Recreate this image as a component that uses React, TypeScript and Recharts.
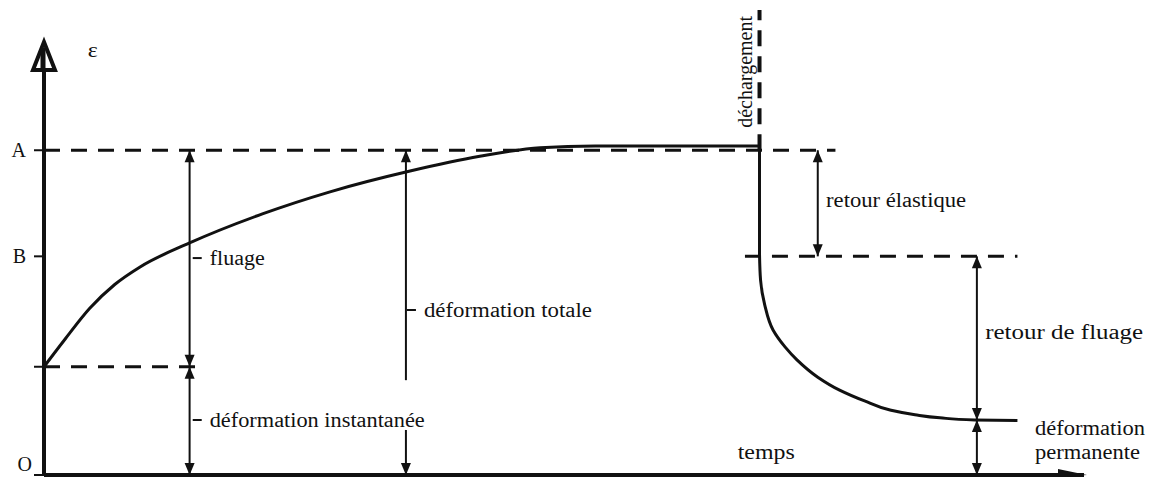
import React from "react";
import { LineChart, Line, XAxis, YAxis, ReferenceLine, ReferenceDot } from "recharts";

// fluage (creep) curve, time 0..100, strain 0..100
const creepTime = [0, 2, 4.4, 6.8, 9.2, 14.0, 21.0, 27.5, 35.2, 41.9, 47.7, 53.0, 68.8];
const creepStrain = [25, 31.3, 38.5, 44.0, 48.0, 53.6, 60.3, 65.4, 70.2, 73.6, 75.6, 76.0, 76.0];

// recovery after unloading
const recoveryTime = [68.8, 68.9, 69.3, 70.1, 71.25, 72.4, 74.4, 76.5, 78.9, 81.35, 83.75, 86.15, 89.5, 93.6];
const recoveryStrain = [50.8, 45.0, 39.3, 33.5, 29.6, 26.6, 22.6, 19.6, 17.1, 15.0, 13.9, 13.2, 12.7, 12.6];

const levelNames = ["O", "", "B", "A"];
const levelValues = [0, 25, 50.5, 75];
const unloadTime = 68.8;
const permanentStrain = 12.7;

const INK = "#111";
const FONT = "'Liberation Serif', 'Times New Roman', serif";

const creepData = creepTime.map((t, i) => ({ t, e: creepStrain[i] }));
const recoveryData = recoveryTime.map((t, i) => ({ t, e: recoveryStrain[i] }));
const dropData = [
  { t: unloadTime, e: creepStrain[creepStrain.length - 1] },
  { t: unloadTime, e: recoveryStrain[0] },
];

const instant = levelValues[1];
const levelB = levelValues[2];
const levelA = levelValues[3];

function arrow(start: boolean, end: boolean) {
  return (p: any) => {
    const { x1, y1, x2, y2 } = p;
    const head = (x: number, y: number, dir: number) => (
      <polygon
        points={`${x},${y} ${x - 5},${y - dir * 12} ${x + 5},${y - dir * 12}`}
        fill={INK}
      />
    );
    return (
      <g>
        <line x1={x1} y1={y1} x2={x2} y2={y2} stroke={INK} strokeWidth={2} />
        {start && head(x1, y1, Math.sign(y1 - y2))}
        {end && head(x2, y2, Math.sign(y2 - y1))}
      </g>
    );
  };
}

function note(text: string, width: number, dash = false, rotate = false) {
  return (p: any) => {
    const { cx, cy } = p;
    if (rotate) {
      return (
        <text
          x={cx}
          y={cy}
          transform={`rotate(-90 ${cx} ${cy})`}
          textAnchor="middle"
          dominantBaseline="central"
          fontFamily={FONT}
          fontSize={20}
          fill={INK}
        >
          {text}
        </text>
      );
    }
    const tx = dash ? cx + 17 : cx;
    return (
      <g>
        {dash && <line x1={cx} y1={cy} x2={cx + 9} y2={cy} stroke={INK} strokeWidth={2} />}
        <text
          x={tx}
          y={cy}
          dominantBaseline="central"
          fontFamily={FONT}
          fontSize={20}
          fill={INK}
          textLength={width}
          lengthAdjust="spacingAndGlyphs"
        >
          {text}
        </text>
      </g>
    );
  };
}

const levelTick = (p: any) => {
  const { x, y, payload } = p;
  const label = levelNames[levelValues.indexOf(payload.value)];
  const isOrigin = payload.value === 0;
  return (
    <text
      x={isOrigin ? x + 6 : x}
      y={isOrigin ? y - 11 : y}
      textAnchor="end"
      dominantBaseline="central"
      fontFamily={FONT}
      fontSize={20}
      fill={INK}
    >
      {label}
    </text>
  );
};

const yArrow = (p: any) => {
  const { cx, cy } = p;
  return (
    <g>
      <polygon
        points={`${cx},${cy} ${cx - 11},${cy + 28} ${cx + 11},${cy + 28}`}
        fill="#fff"
        stroke={INK}
        strokeWidth={4}
        strokeLinejoin="miter"
      />
      <line x1={cx - 1} y1={cy + 28} x2={cx - 1} y2={cy + 6} stroke={INK} strokeWidth={5} />
    </g>
  );
};

const xArrow = (p: any) => {
  const { cx, cy } = p;
  return <polygon points={`${cx + 3},${cy} ${cx - 26},${cy - 6} ${cx - 26},${cy + 2}`} fill={INK} />;
};

const dashed = { stroke: INK, strokeWidth: 3, strokeDasharray: "16 11" };

export default function App() {
  return (
    <div style={{ position: "absolute", left: 0, top: 0, background: "#fff" }}>
      <LineChart width={1150} height={478} margin={{ top: 42, right: 66, bottom: 3, left: 0 }}>
        <XAxis type="number" dataKey="t" domain={[0, 100]} hide />
        <YAxis
          type="number"
          dataKey="e"
          domain={[0, 100]}
          ticks={levelValues}
          interval={0}
          width={44}
          axisLine={{ stroke: INK, strokeWidth: 4 }}
          tickLine={{ stroke: INK, strokeWidth: 2 }}
          tickSize={10}
          tickMargin={8}
          tick={levelTick}
        />

        {/* x axis */}
        <ReferenceLine segment={[{ x: 0, y: 0 }, { x: 100, y: 0 }]} stroke={INK} strokeWidth={4} />
        <ReferenceDot x={100} y={0} shape={xArrow} ifOverflow="visible" />
        <ReferenceDot x={0} y={100} shape={yArrow} ifOverflow="visible" />

        {/* dashed reference levels */}
        <ReferenceLine segment={[{ x: 0, y: levelA }, { x: 76.1, y: levelA }]} {...dashed} />
        <ReferenceLine segment={[{ x: 0, y: instant }, { x: 14.7, y: instant }]} {...dashed} />
        <ReferenceLine segment={[{ x: 67.4, y: levelB }, { x: 93.6, y: levelB }]} {...dashed} />
        <ReferenceLine
          segment={[{ x: unloadTime, y: levelA }, { x: unloadTime, y: 107.4 }]}
          stroke={INK}
          strokeWidth={4}
          strokeDasharray="16 10"
          ifOverflow="visible"
        />

        {/* dimension arrows */}
        <ReferenceLine segment={[{ x: 14.0, y: instant }, { x: 14.0, y: levelA }]} shape={arrow(true, true)} />
        <ReferenceLine segment={[{ x: 14.0, y: 0 }, { x: 14.0, y: instant }]} shape={arrow(true, true)} />
        <ReferenceLine segment={[{ x: 34.8, y: 21.9 }, { x: 34.8, y: levelA }]} shape={arrow(false, true)} />
        <ReferenceLine segment={[{ x: 34.8, y: 0 }, { x: 34.8, y: 10.4 }]} shape={arrow(true, false)} />
        <ReferenceLine segment={[{ x: 74.4, y: levelB }, { x: 74.4, y: levelA }]} shape={arrow(true, true)} />
        <ReferenceLine
          segment={[{ x: 89.7, y: permanentStrain }, { x: 89.7, y: levelB }]}
          shape={arrow(true, true)}
        />
        <ReferenceLine segment={[{ x: 89.7, y: 0 }, { x: 89.7, y: permanentStrain }]} shape={arrow(true, true)} />

        {/* curves */}
        <Line data={creepData} dataKey="e" type="monotone" stroke={INK} strokeWidth={3} dot={false} isAnimationActive={false} />
        <Line data={dropData} dataKey="e" type="linear" stroke={INK} strokeWidth={3} dot={false} isAnimationActive={false} />
        <Line data={recoveryData} dataKey="e" type="monotoneY" stroke={INK} strokeWidth={3} dot={false} isAnimationActive={false} />

        {/* labels */}
        <ReferenceDot x={4.2} y={98.2} shape={note("ε", 10)} ifOverflow="visible" />
        <ReferenceDot x={14.3} y={50.1} shape={note("fluage", 55, true)} />
        <ReferenceDot x={34.9} y={38.1} shape={note("déformation totale", 168, true)} />
        <ReferenceDot x={14.3} y={12.7} shape={note("déformation instantanée", 215, true)} />
        <ReferenceDot x={66.7} y={5.3} shape={note("temps", 57)} />
        <ReferenceDot x={75.2} y={63.5} shape={note("retour élastique", 140)} />
        <ReferenceDot x={90.5} y={33.0} shape={note("retour de fluage", 158)} ifOverflow="visible" />
        <ReferenceDot x={95.3} y={10.9} shape={note("déformation", 110)} ifOverflow="visible" />
        <ReferenceDot x={95.3} y={5.3} shape={note("permanente", 105)} ifOverflow="visible" />
        <ReferenceDot x={67.4} y={93.1} shape={note("déchargement", 125, false, true)} ifOverflow="visible" />
      </LineChart>
    </div>
  );
}
